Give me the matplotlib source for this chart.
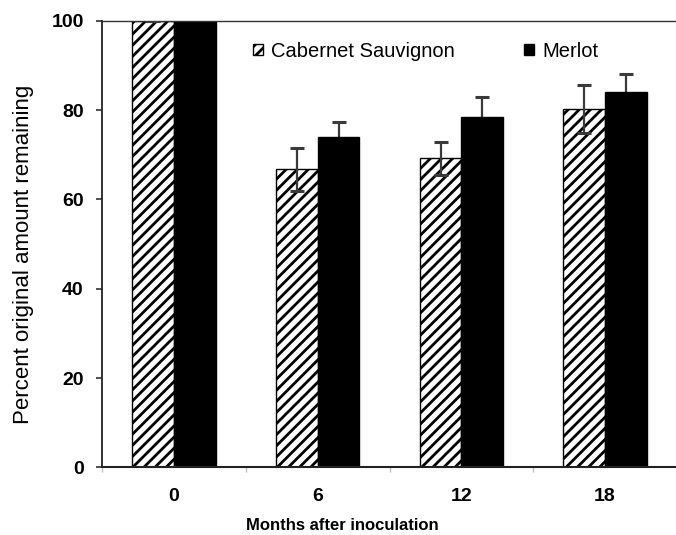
import matplotlib
matplotlib.use("Agg")
import matplotlib.pyplot as plt
import numpy as np
from matplotlib.patches import Patch

plt.rcParams['font.family'] = ['Liberation Sans', 'DejaVu Sans']
plt.rcParams['hatch.linewidth'] = 2.0

categories = ["0", "6", "12", "18"]
cab = [100, 66.7, 69.2, 80.2]
cab_err = [0, 4.9, 3.7, 5.3]
merlot = [100, 74.0, 78.5, 84.0]
merlot_err = [0, 3.4, 4.4, 4.1]
yticks = [0, 20, 40, 60, 80, 100]

fig = plt.figure(figsize=(6.76, 5.35), dpi=100)
ax = fig.add_axes([0.1513, 0.1262, 0.8501, 0.8351])

x = np.arange(len(categories))
w = 0.29
errc = '#3a3a3a'

ax.bar(x - w, cab, width=w, align='edge', color='white', edgecolor='black',
       linewidth=1.0, hatch='///', zorder=2)
ax.bar(x, merlot, width=w, align='edge', color='black', edgecolor='black',
       linewidth=1.0, zorder=2)
ax.errorbar(x - w / 2, cab, yerr=cab_err, fmt='none', ecolor=errc,
            elinewidth=1.6, capsize=4.7, capthick=2.2, zorder=3)
ax.errorbar(x + w / 2, merlot, yerr=merlot_err,
            fmt='none', ecolor=errc, elinewidth=1.6, capsize=4.7,
            capthick=2.2, zorder=1)

ax.set_xlim(-0.5, 3.5)
ax.set_ylim(0, 100)
ax.set_yticks(yticks)
ax.set_yticklabels([str(v) for v in yticks], fontsize=14, fontweight='bold')
ax.set_xticks(x)
ax.set_xticklabels(categories, fontsize=14, fontweight='bold')
ax.tick_params(axis='x', which='major', length=0, pad=15)
ax.set_xticks(np.arange(-0.5, 3.6, 1.0), minor=True)
ax.tick_params(axis='x', which='minor', length=3.6, width=1, color='#c0c0c0',
               direction='out')
ax.tick_params(axis='y', which='major', length=4.3, width=1.1,
               direction='out', pad=9, color='#222222')

ax.spines['left'].set_linewidth(1.3)
ax.spines['left'].set_color('#222222')
ax.spines['bottom'].set_linewidth(1.5)
ax.spines['bottom'].set_color('#222222')
ax.spines['top'].set_linewidth(1.0)
ax.spines['top'].set_color('#333333')
ax.spines['right'].set_visible(False)

handles = [Patch(facecolor='white', edgecolor='black', hatch='///', linewidth=1.0),
           Patch(facecolor='black', edgecolor='black')]
ax.legend(handles, ['Cabernet Sauvignon', 'Merlot'], ncol=2, frameon=False,
          loc='center left', bbox_to_anchor=(0.262, 0.932), borderaxespad=0,
          borderpad=0, handlelength=0.5, handleheight=0.5, handletextpad=0.4,
          columnspacing=3.45, fontsize=14.5)

fig.text(24 / 676, 1 - 254 / 535, 'Percent original amount remaining',
         rotation=90, ha='center', va='center', fontsize=16)
fig.text(342 / 676, 1 - 525 / 535, 'Months after inoculation',
         ha='center', va='center', fontsize=12, fontweight='bold')

fig.savefig('out.png', dpi=100)
